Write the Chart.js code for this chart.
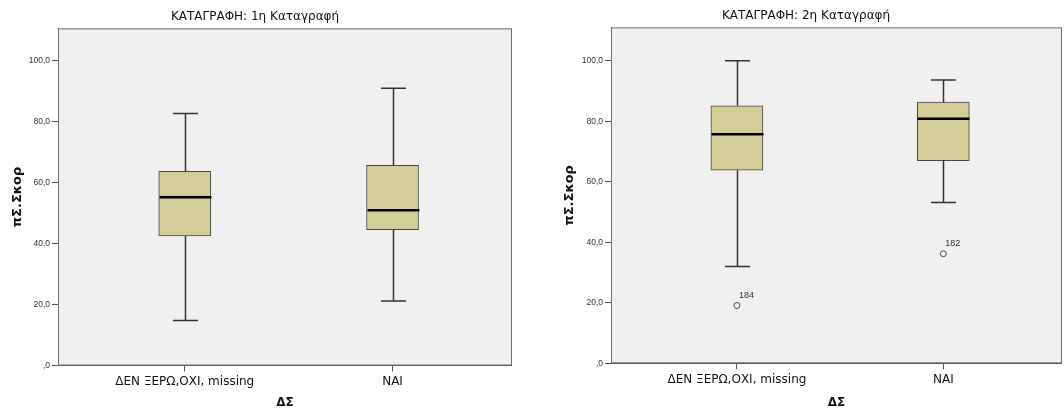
<!DOCTYPE html>
<html>
<head>
<meta charset="utf-8">
<script src="https://cdn.jsdelivr.net/npm/chart.js@4.4.1/dist/chart.umd.min.js"></script>
<style>
  html, body { margin: 0; padding: 0; background: #ffffff; width: 1064px; height: 410px; overflow: hidden; }
  .panel { position: absolute; top: 0; height: 410px; }
  #p1 { left: -2px; width: 514px; }
  #p2 { left: 550px; width: 512px; }
</style>
</head>
<body>
<div class="panel" id="p1"><canvas id="c1" width="514" height="410"></canvas></div>
<div class="panel" id="p2"><canvas id="c2" width="512" height="410"></canvas></div>
<script>
// ---- data ----
const categories = ['ΔΕΝ ΞΕΡΩ,ΟΧΙ, missing', 'ΝΑΙ'];
const yTicks = [0, 20, 40, 60, 80, 100];
const titles = ['ΚΑΤΑΓΡΑΦΗ: 1η Καταγραφή', 'ΚΑΤΑΓΡΑΦΗ: 2η Καταγραφή'];
const xAxisTitle = 'ΔΣ';
const yAxisTitle = 'πΣ.Σκορ';

// Panel 1 (1η Καταγραφή)
const p1Min    = [14.8, 21.2];
const p1Q1     = [42.5, 44.6];
const p1Median = [55.2, 50.9];
const p1Q3     = [63.7, 65.7];
const p1Max    = [82.7, 91.0];
const p1OutCat = [];
const p1OutVal = [];
const p1OutId  = [];

// Panel 2 (2η Καταγραφή)
const p2Min    = [32.0, 53.1];
const p2Q1     = [63.8, 67.0];
const p2Median = [75.7, 80.8];
const p2Q3     = [85.1, 86.3];
const p2Max    = [100.0, 93.6];
const p2OutCat = [0, 1];
const p2OutVal = [19.1, 36.2];
const p2OutId  = ['184', '182'];

const FONT = '"DejaVu Sans", Verdana, sans-serif';
const SMALLFONT = '"Liberation Sans", Arial, sans-serif';

const framePlugin = {
  id: 'frame',
  beforeDraw(chart) {
    const {ctx, chartArea: a} = chart;
    ctx.save();
    ctx.fillStyle = '#f0f0f0';
    ctx.fillRect(a.left, a.top, a.right - a.left, a.bottom - a.top);
    ctx.restore();
  },
  afterDraw(chart) {
    const {ctx, chartArea: a} = chart;
    ctx.save();
    ctx.strokeStyle = '#6e6e6e';
    ctx.lineWidth = 1;
    ctx.strokeRect(a.left + 0.5, a.top + 0.5, a.right - a.left - 1, a.bottom - a.top - 1);
    ctx.restore();
  }
};

const boxPlugin = {
  id: 'boxparts',
  afterDatasetsDraw(chart, args, opts) {
    const {ctx, scales: {x, y}} = chart;
    const s = opts.stats;
    ctx.save();
    for (let i = 0; i < categories.length; i++) {
      const cx = Math.round(x.getPixelForValue(i)) + 0.5;
      const half = 26, cap = 12.5;
      // whiskers
      ctx.strokeStyle = '#333333';
      ctx.lineWidth = 1.5;
      ctx.beginPath();
      ctx.moveTo(cx, y.getPixelForValue(s.q3[i]));
      ctx.lineTo(cx, y.getPixelForValue(s.max[i]));
      ctx.moveTo(cx, y.getPixelForValue(s.q1[i]));
      ctx.lineTo(cx, y.getPixelForValue(s.min[i]));
      ctx.moveTo(cx - cap, y.getPixelForValue(s.max[i]));
      ctx.lineTo(cx + cap, y.getPixelForValue(s.max[i]));
      ctx.moveTo(cx - cap, y.getPixelForValue(s.min[i]));
      ctx.lineTo(cx + cap, y.getPixelForValue(s.min[i]));
      ctx.stroke();
      // median
      ctx.strokeStyle = '#000000';
      ctx.lineWidth = 2.5;
      ctx.beginPath();
      ctx.moveTo(cx - half, y.getPixelForValue(s.median[i]));
      ctx.lineTo(cx + half, y.getPixelForValue(s.median[i]));
      ctx.stroke();
    }
    // outlier labels
    ctx.fillStyle = '#333333';
    ctx.font = '9px ' + SMALLFONT;
    ctx.textAlign = 'left';
    ctx.textBaseline = 'middle';
    for (let k = 0; k < s.outCat.length; k++) {
      const px = x.getPixelForValue(s.outCat[k]);
      const py = y.getPixelForValue(s.outVal[k]);
      ctx.fillText(s.outId[k], px + 2, py - 10);
    }
    ctx.restore();
  }
};

function makeChart(canvasId, title, st, yMax, yWidth, xHeight, titleTop) {
  const boxData = categories.map((c, i) => ({x: i, y: [st.q1[i], st.q3[i]]}));
  const outData = st.outCat.map((c, k) => ({x: c, y: st.outVal[k]}));
  return new Chart(document.getElementById(canvasId), {
    type: 'bar',
    data: {
      datasets: [
        { type: 'bar', data: boxData, backgroundColor: '#d3ce97', borderColor: '#474747',
          borderWidth: 1, borderSkipped: false, barThickness: 52 },
        { type: 'scatter', data: outData, pointStyle: 'circle', pointRadius: 3, pointBorderWidth: 1,
          pointBorderColor: '#4d4d4d', pointBackgroundColor: 'rgba(0,0,0,0)' }
      ]
    },
    options: {
      responsive: false,
      animation: false,
      devicePixelRatio: 1,
      layout: { padding: 0, autoPadding: false },
      plugins: {
        legend: { display: false },
        tooltip: { enabled: false },
        title: { display: true, text: title, color: '#111111',
          font: { family: FONT, size: 12, weight: 'normal' }, padding: { top: titleTop, bottom: 4 } },
        boxparts: { stats: st }
      },
      scales: {
        x: {
          type: 'linear', min: -0.61, max: 1.575, offset: false,
          afterBuildTicks: (scale) => { scale.ticks = categories.map((c, i) => ({ value: i })); },
          afterFit: (scale) => { scale.height = xHeight; scale.paddingLeft = 0; scale.paddingRight = 0; },
          ticks: { callback: (v) => categories[v], color: '#111111', font: { family: FONT, size: 12 },
            autoSkip: false, maxRotation: 0, padding: 3 },
          grid: { display: true, offset: false, drawOnChartArea: false, drawTicks: true, tickLength: 6, tickColor: '#555555' },
          border: { display: true, color: '#555555', width: 1 },
          title: { display: true, text: xAxisTitle, color: '#111111',
            font: { family: FONT, size: 12, weight: 'bold' }, padding: { top: 0, bottom: 0 } }
        },
        y: {
          type: 'linear', min: 0, max: yMax,
          afterBuildTicks: (scale) => { scale.ticks = yTicks.map(v => ({ value: v })); },
          afterFit: (scale) => { scale.width = yWidth; },
          ticks: { callback: (v) => v === 0 ? ',0' : v.toFixed(1).replace('.', ','), color: '#333333',
            font: { family: SMALLFONT, size: 8.5 }, padding: 2 },
          grid: { display: true, drawOnChartArea: false, drawTicks: true, tickLength: 6, tickColor: '#555555' },
          border: { display: true, color: '#555555', width: 1 },
          title: { display: true, text: yAxisTitle, color: '#111111',
            font: { family: FONT, size: 13, weight: 'bold' }, padding: { top: 12, bottom: 0 } }
        }
      }
    },
    plugins: [framePlugin, boxPlugin]
  });
}

makeChart('c1', titles[0], {
  min: p1Min, q1: p1Q1, median: p1Median, q3: p1Q3, max: p1Max,
  outCat: p1OutCat, outVal: p1OutVal, outId: p1OutId
}, 110.6, 60, 44.5, 10);

makeChart('c2', titles[1], {
  min: p2Min, q1: p2Q1, median: p2Median, q3: p2Q3, max: p2Max,
  outCat: p2OutCat, outVal: p2OutVal, outId: p2OutId
}, 111, 61, 46.7, 9);
</script>
</body>
</html>
